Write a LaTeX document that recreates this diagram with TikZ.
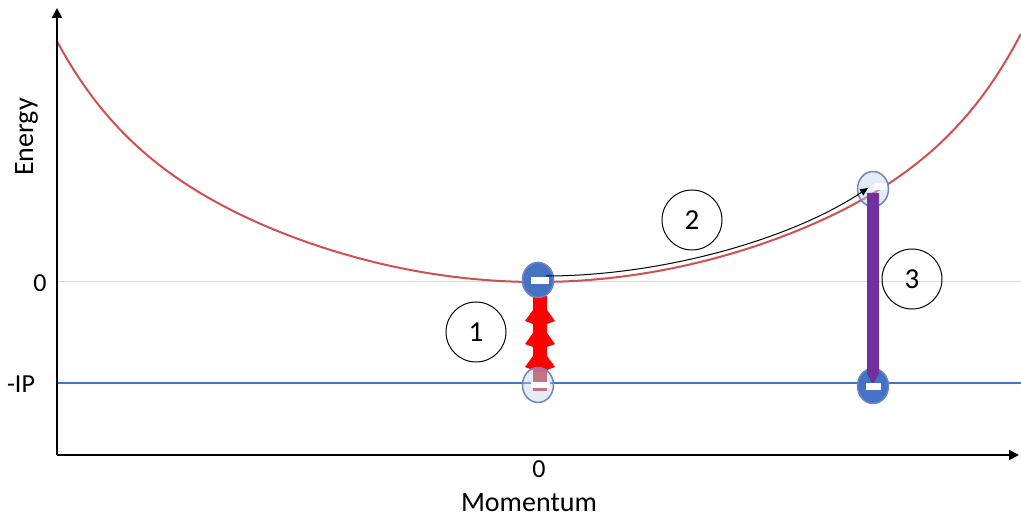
\documentclass[tikz,border=0pt]{standalone}
\usepackage{fontspec}
\setmainfont{Carlito}
\usetikzlibrary{arrows.meta,shapes.geometric,calc}
\definecolor{curvered}{HTML}{D05050}
\definecolor{ofblue}{HTML}{4472C4}
\definecolor{ofblueedge}{HTML}{6A86C6}
\definecolor{holefill}{HTML}{C6D4EE}
\definecolor{ofpurple}{HTML}{7030A0}
\definecolor{zerogray}{HTML}{DADADA}
\definecolor{darkred}{HTML}{C0282C}
\tikzset{
  axislbl/.style={font=\fontsize{28}{32}\selectfont, inner sep=0pt},
  ticklbl/.style={font=\fontsize{26}{30}\selectfont, inner sep=0pt},
  numcircle/.style={draw=black, circle, line width=1pt, minimum size=60pt, inner sep=0pt, font=\fontsize{29}{33}\selectfont},
  elecdot/.style={ellipse, draw=ofblueedge, line width=1.5pt, fill=ofblue, minimum width=31pt, minimum height=35pt, inner sep=0pt},
  holedot/.style={ellipse, draw=ofblueedge, line width=1.5pt, fill=holefill, fill opacity=0.45, minimum width=31pt, minimum height=35pt, inner sep=0pt},
  minusbar/.style={fill=white, draw=none},
  axisline/.style={line width=2pt, -{Triangle[length=10pt,width=10pt]}},
}
\begin{document}
\begin{tikzpicture}[x=1pt,y=-1pt]
\useasboundingbox (0,0) rectangle (1021,518);
% reference lines
\draw[zerogray, line width=1pt] (57,282) -- (1021,282);
\draw[ofblue, line width=1.5pt] (57,383) -- (1021,383);
% dispersion curve
\draw[curvered, line width=2pt] plot[domain=-4.8:4.84, samples=200, smooth]
  ({537+100*\x}, {282 - 7.5*\x*\x - 68*(\x/4.8)^8});
% axes
\coordinate (O) at (57,455);
\coordinate (ytop) at (57,8);
\coordinate (xend) at (1019,455);
\draw[axisline] (O) -- (ytop);
\draw[axisline] (O) -- (xend);
% labels
\node[axislbl, rotate=90, anchor=base] (elbl) at (33,137) {Energy};
\node[axislbl, anchor=base] (mlbl) at (529,512) {Momentum};
\node[ticklbl, anchor=base] (x0) at (539,478) {0};
\node[ticklbl, anchor=base] (y0) at (40,292) {0};
\node[ticklbl, anchor=base] (yip) at (21,393) {-IP};
% particles
\node[elecdot] (e1) at (538,280) {};
% red photon arrow (1)
\fill[red] (533,296) rectangle (547,372);
\fill[darkred] (533,372) rectangle (547,391);
\foreach \yy in {321,344,367}{
  \fill[red] (533,\yy-11) -- (525,\yy) -- (533,\yy+3) -- cycle;
  \fill[red] (547,\yy-11) -- (555,\yy) -- (547,\yy+3) -- cycle;
}
\node[holedot] (h1) at (538,385) {};
\fill[minusbar] (531,382) rectangle (550,388);
\node[elecdot] (e1b) at (538,280) {};
\fill[minusbar] (531,277) rectangle (549,284);
% upper right hole and bottom right electron
\node[holedot] (e2) at (873,189) {};
\fill[minusbar] (874,183) rectangle (887,190);
\node[elecdot] (h2) at (873,386) {};
% purple recombination arrow (3)
\fill[ofpurple] (867,193) -- (879,193) -- (879,374) -- (873,384) -- (867,374) -- cycle;
\fill[minusbar] (866,383) rectangle (881,390);
% propagation arrow (2)
\coordinate (a2s) at (546,276);
\coordinate (a2e) at (868,188);
\draw[black, line width=1pt, -{Triangle[length=8pt,width=7pt]}] (a2s) .. controls (660,276) and (790,240) .. (a2e);
% step numbers
\node[numcircle] (n1) at (476,332) {1};
\node[numcircle] (n2) at (692,220) {2};
\node[numcircle] (n3) at (912,279) {3};
\end{tikzpicture}
\end{document}
